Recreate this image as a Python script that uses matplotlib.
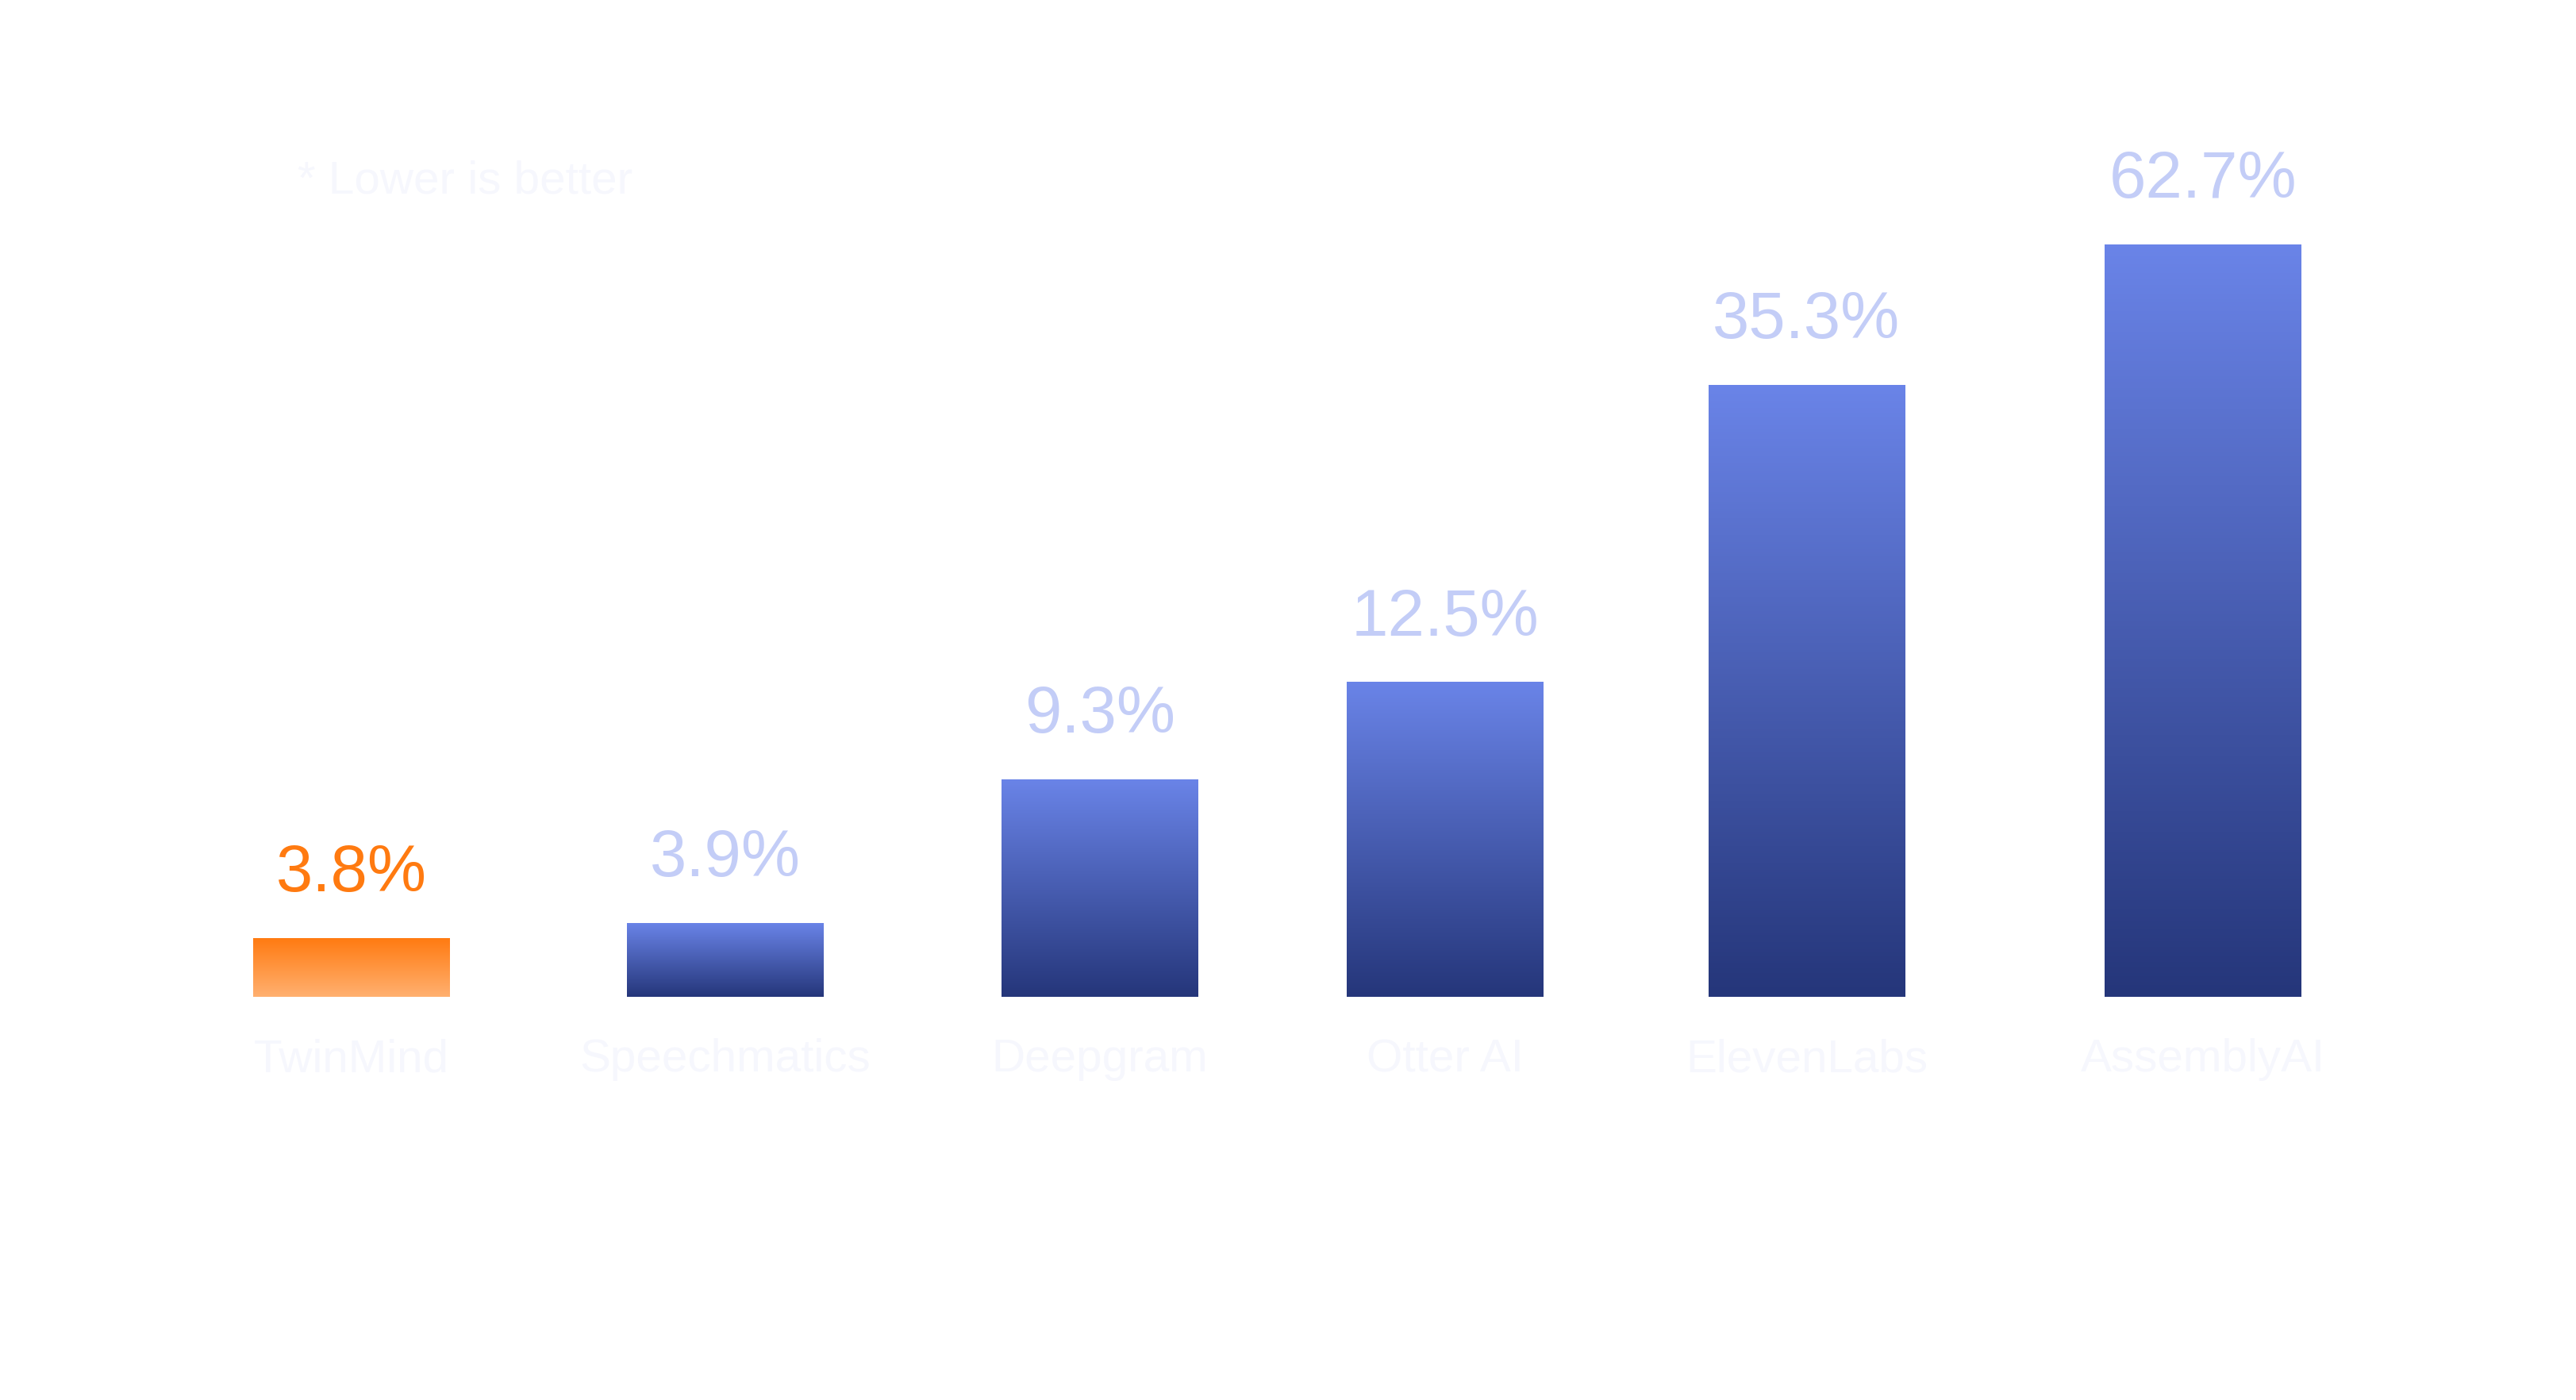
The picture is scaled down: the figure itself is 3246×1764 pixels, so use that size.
import numpy as np
import matplotlib
matplotlib.use("Agg")
import matplotlib.pyplot as plt
from matplotlib.patches import Rectangle

plt.rcParams["font.family"] = ["Liberation Sans", "DejaVu Sans"]

categories = ["TwinMind", "Speechmatics", "Deepgram", "Otter AI", "ElevenLabs", "AssemblyAI"]
values = [3.8, 3.9, 9.3, 12.5, 35.3, 62.7]
labels = ["3.8%", "3.9%", "9.3%", "12.5%", "35.3%", "62.7%"]
positions = [213, 439, 666, 875, 1094, 1334]
highlight = "TwinMind"

# the source chart is not drawn to a linear scale; reproduce its visual scale
scale_vals = [0, 3.8, 3.9, 9.3, 12.5, 35.3, 62.7, 100]
scale_px = [0, 36, 45, 132, 191, 371, 456, 600]


def fwd(v):
    return np.interp(v, scale_vals, scale_px)


def inv(p):
    return np.interp(p, scale_px, scale_vals)


W, H = 1560, 848
fig = plt.figure(figsize=(16.23, 8.82), dpi=200)
ax = fig.add_axes([0, 1 - 604 / H, 1, 520 / H])
ax.set_xlim(0, W)
ax.set_ylim(0, 520)
ax.axis("off")

bar_w = 119
for cat, v, lab, x in zip(categories, values, labels, positions):
    h = fwd(v)
    if cat == highlight:
        top, bot, tc = "#ff7a10", "#ffb070", "#ff7a10"
    else:
        top, bot, tc = "#6a84e8", "#25367a", "#c3cdf7"
    cmap = matplotlib.colors.LinearSegmentedColormap.from_list("g", [bot, top])
    grad = np.linspace(0, 1, 256).reshape(-1, 1)
    im = ax.imshow(grad, cmap=cmap, origin="lower", aspect="auto",
                   extent=(x - bar_w / 2, x + bar_w / 2, 0, h), zorder=2)
    rect = Rectangle((x - bar_w / 2, 0), bar_w, h, transform=ax.transData,
                     facecolor="none", edgecolor="none")
    ax.add_patch(rect)
    im.set_clip_path(rect)
    ax.text(x, h + 20, lab, ha="center", va="bottom", fontsize=30, color=tc)
    ax.text(x, -38, cat, ha="center", va="center", fontsize=21, color="#f6f7fd")

fig.text(180 / W, 1 - 110 / H, "* Lower is better", ha="left", va="center",
         fontsize=21, color="#f6f7fd")

fig.savefig("out.png", dpi=200, facecolor="white")
